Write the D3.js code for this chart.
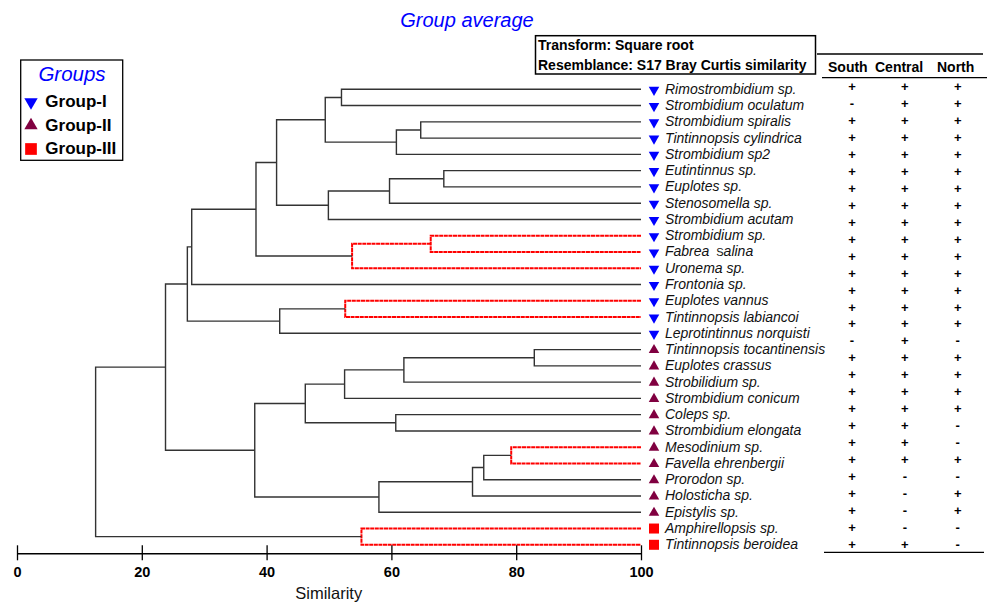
<!DOCTYPE html>
<html>
<head>
<meta charset="utf-8">
<script src="https://cdn.jsdelivr.net/npm/d3@7"></script>
<style>
  body { margin: 0; background: #fff; }
  svg { display: block; font-family: "Liberation Sans", Arial, sans-serif; }
</style>
</head>
<body>
<svg id="chart"></svg>
<script>
// Leaves, top to bottom
const species = [
    "Rimostrombidium sp.", "Strombidium oculatum", "Strombidium spiralis",
    "Tintinnopsis cylindrica", "Strombidium sp2", "Eutintinnus sp.", "Euplotes sp.",
    "Stenosomella sp.", "Strombidium acutam", "Strombidium sp.", "Fabrea Salina",
    "Uronema sp.", "Frontonia sp.", "Euplotes vannus", "Tintinnopsis labiancoi",
    "Leprotintinnus norquisti", "Tintinnopsis tocantinensis", "Euplotes crassus",
    "Strobilidium sp.", "Strombidium conicum", "Coleps sp.", "Strombidium elongata",
    "Mesodinium sp.", "Favella ehrenbergii", "Prorodon sp.", "Holosticha sp.",
    "Epistylis sp.", "Amphirellopsis sp.", "Tintinnopsis beroidea"
];
const groupNames = ["Group-I", "Group-II", "Group-III"];
// group index of each leaf
const speciesGroup = [
    0, 0, 0, 0, 0, 0, 0, 0, 0, 0, 0, 0, 0, 0, 0, 0,
    1, 1, 1, 1, 1, 1, 1, 1, 1, 1, 1,
    2, 2
];

// [node id, child a, child b, similarity, highlighted (red)]
const merges = [
    ["n1", "Rimostrombidium sp.", "Strombidium oculatum", 52.0, 0],
    ["n2", "Strombidium spiralis", "Tintinnopsis cylindrica", 64.7, 0],
    ["n3", "n2", "Strombidium sp2", 60.8, 0],
    ["n4", "n1", "n3", 49.4, 0],
    ["n5", "Eutintinnus sp.", "Euplotes sp.", 68.4, 0],
    ["n6", "n5", "Stenosomella sp.", 59.7, 0],
    ["n7", "n6", "Strombidium acutam", 49.9, 0],
    ["n8", "n4", "n7", 41.6, 0],
    ["n9", "Strombidium sp.", "Fabrea Salina", 66.3, 1],
    ["n10", "n9", "Uronema sp.", 53.7, 1],
    ["n11", "n8", "n10", 38.3, 0],
    ["n12", "n11", "Frontonia sp.", 28.0, 0],
    ["n13", "Euplotes vannus", "Tintinnopsis labiancoi", 52.6, 1],
    ["n14", "n13", "Leprotintinnus norquisti", 42.1, 0],
    ["n15", "n12", "n14", 27.3, 0],
    ["n16", "Tintinnopsis tocantinensis", "Euplotes crassus", 82.9, 0],
    ["n17", "n16", "Strobilidium sp.", 62.0, 0],
    ["n18", "n17", "Strombidium conicum", 52.5, 0],
    ["n19", "Coleps sp.", "Strombidium elongata", 60.7, 0],
    ["n20", "n18", "n19", 46.2, 0],
    ["n21", "Mesodinium sp.", "Favella ehrenbergii", 79.2, 1],
    ["n22", "n21", "Prorodon sp.", 74.8, 0],
    ["n23", "n22", "Holosticha sp.", 73.0, 0],
    ["n24", "n23", "Epistylis sp.", 58.0, 0],
    ["n25", "n20", "n24", 38.1, 0],
    ["n26", "n15", "n25", 23.8, 0],
    ["n27", "Amphirellopsis sp.", "Tintinnopsis beroidea", 55.2, 1],
    ["n28", "n26", "n27", 12.6, 0]
];

const axisTicks = [0, 20, 40, 60, 80, 100];

// Occurrence table (South, Central, North)
const regions = ["South", "Central", "North"];
const presence = [
    "+++", "-++", "+++", "+++", "+++", "+++", "+++", "+++", "+++", "+++",
    "+++", "+++", "+++", "+++", "+++", "-+-", "+++", "+++", "+++", "+++",
    "++-", "++-", "+++", "+--", "+-+", "+-+", "+--", "++-"
];

const width = 987, height = 605;
const svg = d3.select("#chart").attr("width", width).attr("height", height);

const x = d3.scaleLinear().domain([0, 100]).range([17, 641]);
const y = d3.scalePoint().domain(species).range([89.3, 544.8]);
const rowY = d3.scalePoint().domain(d3.range(presence.length)).range([86.7, 544.3]);

const groupColor = d3.scaleOrdinal().domain(groupNames).range(["#0000ff", "#800040", "#ff0000"]);
const groupShape = d3.scaleOrdinal().domain(groupNames).range(["down", "up", "square"]);

function symbolPath(shape, scale) {
    if (shape === "square") return d3.symbol(d3.symbolSquare, 100 * scale)();
    return d3.symbol(d3.symbolTriangle, 48 * scale)();
}

// Title
svg.append("text")
    .attr("x", 467).attr("y", 27)
    .attr("text-anchor", "middle")
    .attr("font-size", 20).attr("font-style", "italic")
    .attr("fill", "#0000ff")
    .text("Group average");

// Dendrogram
const pos = new Map();
species.forEach(s => pos.set(s, { x: x(100), y: y(s) }));
const tree = svg.append("g").attr("fill", "none");
merges.forEach(([id, a, b, sim, red]) => {
    const pa = pos.get(a), pb = pos.get(b);
    const nx = x(sim);
    pos.set(id, { x: nx, y: (pa.y + pb.y) / 2 });
    tree.append("path")
        .attr("d", `M${pa.x},${pa.y}H${nx}V${pb.y}H${pb.x}`)
        .attr("stroke", red ? "#ff0000" : "#333")
        .attr("stroke-width", red ? 2 : 1.4)
        .attr("stroke-dasharray", red ? "4,0.6" : null);
});

// Leaf symbols and labels
const leaves = svg.append("g")
    .selectAll("g")
    .data(species)
    .join("g")
    .attr("transform", d => `translate(0,${y(d)})`);

leaves.append("path")
    .attr("d", (d, i) => symbolPath(groupShape(groupNames[speciesGroup[i]]), 1))
    .attr("transform", (d, i) => {
        const shape = groupShape(groupNames[speciesGroup[i]]);
        return `translate(654,${shape === "square" ? 0 : 0.5})` + (shape === "down" ? " rotate(180)" : "");
    })
    .attr("fill", (d, i) => groupColor(groupNames[speciesGroup[i]]));

leaves.append("text")
    .attr("x", 665).attr("y", 4.5)
    .attr("font-size", 14).attr("font-style", "italic")
    .attr("fill", "#111")
    .each(function(d) {
        const t = d3.select(this);
        if (d === "Fabrea Salina") {
            t.append("tspan").text("Fabrea ");
            t.append("tspan").attr("font-style", "normal").attr("font-size", 11).attr("dx", 3).text("S");
            t.append("tspan").text("alina");
        } else {
            t.text(d);
        }
    });

// Axis
const axis = svg.append("g")
    .attr("transform", "translate(0,553.3)")
    .call(d3.axisBottom(x).tickValues(axisTicks).tickSizeOuter(0));
axis.select(".domain").attr("stroke", "#000").attr("stroke-width", 1.5);
axis.selectAll(".tick line").attr("y1", -8).attr("y2", 7).attr("stroke", "#000").attr("stroke-width", 1.3);
axis.selectAll(".tick text")
    .attr("y", 23.4).attr("dy", 0)
    .attr("font-size", 14.5).attr("font-weight", "bold")
    .attr("font-family", "Liberation Sans, Arial, sans-serif")
    .attr("fill", "#000");

svg.append("text")
    .attr("x", 328.7).attr("y", 599)
    .attr("text-anchor", "middle")
    .attr("font-size", 16.5)
    .attr("fill", "#111")
    .text("Similarity");

// Transform / resemblance box
svg.append("rect")
    .attr("x", 535.5).attr("y", 35.7).attr("width", 280).attr("height", 38.3)
    .attr("fill", "none").attr("stroke", "#000").attr("stroke-width", 1.5);
svg.append("text")
    .attr("x", 538).attr("y", 49.5)
    .attr("font-size", 14).attr("font-weight", "bold")
    .text("Transform: Square root");
svg.append("text")
    .attr("x", 538).attr("y", 69.5)
    .attr("font-size", 14).attr("font-weight", "bold")
    .text("Resemblance: S17 Bray Curtis similarity");

// Legend
const legend = svg.append("g");
legend.append("rect")
    .attr("x", 20.7).attr("y", 60).attr("width", 102).attr("height", 100.3)
    .attr("fill", "none").attr("stroke", "#000").attr("stroke-width", 1.3);
legend.append("text")
    .attr("x", 72).attr("y", 80.5)
    .attr("text-anchor", "middle")
    .attr("font-size", 20.5).attr("font-style", "italic")
    .attr("fill", "#0000ff")
    .text("Groups");
const legendY = d3.scalePoint().domain(groupNames).range([101, 148]);
const legendItem = legend.selectAll("g.item")
    .data(groupNames)
    .join("g")
    .attr("class", "item")
    .attr("transform", d => `translate(0,${legendY(d)})`);
legendItem.append("path")
    .attr("d", d => symbolPath(groupShape(d), d === "Group-III" ? 1.37 : 1.6))
    .attr("transform", d => "translate(31,1)" + (groupShape(d) === "down" ? " rotate(180)" : ""))
    .attr("fill", d => groupColor(d));
legendItem.append("text")
    .attr("x", 45.3).attr("y", 6)
    .attr("font-size", 17).attr("font-weight", "bold")
    .text(d => d);

// Occurrence table
const table = svg.append("g");
const colX = d3.scalePoint().domain(regions).range([852, 957.7]);
table.append("line").attr("x1", 817).attr("x2", 983).attr("y1", 54).attr("y2", 54)
    .attr("stroke", "#000").attr("stroke-width", 1.3);
table.append("line").attr("x1", 822).attr("x2", 987).attr("y1", 77.7).attr("y2", 77.7)
    .attr("stroke", "#000").attr("stroke-width", 1.3);
table.append("line").attr("x1", 824).attr("x2", 984).attr("y1", 552.3).attr("y2", 552.3)
    .attr("stroke", "#000").attr("stroke-width", 1.3);
const headerX = [828, 875, 937];
table.selectAll("text.head")
    .data(regions)
    .join("text")
    .attr("class", "head")
    .attr("x", (d, i) => headerX[i]).attr("y", 71.7)
    .attr("font-size", 14).attr("font-weight", "bold")
    .text(d => d);
presence.forEach((row, r) => {
    regions.forEach((reg, c) => {
        table.append("text")
            .attr("x", colX(reg)).attr("y", rowY(r) + 4.5)
            .attr("text-anchor", "middle")
            .attr("font-size", 13).attr("font-weight", "bold")
            .text(row[c]);
    });
});
</script>
</body>
</html>
